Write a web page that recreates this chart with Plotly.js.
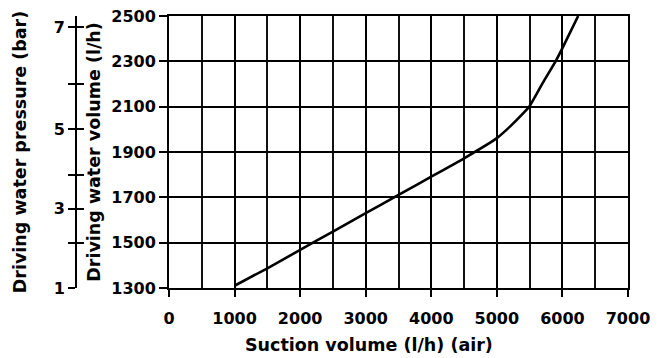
<!DOCTYPE html>
<html>
<head>
<meta charset="utf-8">
<script src="https://cdn.plot.ly/plotly-3.0.1.min.js"></script>
<style>html,body{margin:0;padding:0;background:#fff;}#chart{width:667px;height:358px;}</style>
</head>
<body>
<div id="chart"></div>
<script>
// Suction volume (l/h, air)
const suctionVolume = [1000, 1500, 2000, 2500, 3000, 3500, 4000, 4500, 5000, 5200, 5400, 5500, 5700, 5900, 6000, 6240];
// Driving water volume (l/h)
const drivingWaterVolume = [1310, 1387, 1468, 1549, 1630, 1711, 1791, 1872, 1961, 2012, 2070, 2103, 2205, 2302, 2358, 2500];
// Driving water pressure scale (bar) and the driving water volume level it sits at
const pressureValues = [1, 2, 3, 4, 5, 6, 7];
const pressureLabels = ['1', '', '3', '', '5', '', '7'];
const pressureAtVolume = [1300, 1500, 1650, 1800, 2000, 2200, 2450];

const xTitle = 'Suction volume (l/h) (air)';
const yTitle = 'Driving water volume (l/h)';
const y2Title = 'Driving water pressure (bar)';

const FONT = {family: 'DejaVu Sans', size: 16, color: '#000', weight: 700};
const TITLEFONT = {family: 'DejaVu Sans', size: 17.5, color: '#000', weight: 700};

const traces = [{
  x: suctionVolume, y: drivingWaterVolume, type: 'scatter', mode: 'lines',
  line: {color: '#000', width: 2.6, shape: 'spline', smoothing: 0.5},
  xaxis: 'x', yaxis: 'y', hoverinfo: 'skip', showlegend: false
}, {
  // empty carriers so the pressure scale is drawn
  x: [], y: [], type: 'scatter', mode: 'lines', xaxis: 'x', yaxis: 'y2',
  hoverinfo: 'skip', showlegend: false
}, {
  x: [], y: [], type: 'scatter', mode: 'lines', xaxis: 'x', yaxis: 'y3',
  hoverinfo: 'skip', showlegend: false
}];

const layout = {
  width: 667, height: 358,
  margin: {l: 0, r: 39, t: 16, b: 70},
  paper_bgcolor: '#fff', plot_bgcolor: '#fff',
  font: FONT,
  showlegend: false,
  xaxis: {
    domain: [169 / 628, 1],
    range: [0, 7000], dtick: 1000, tick0: 0,
    showgrid: true, gridcolor: '#000', gridwidth: 2,
    minor: {dtick: 500, showgrid: true, gridcolor: '#111', gridwidth: 2, ticks: ''},
    showline: true, linecolor: '#000', linewidth: 2, mirror: true,
    ticks: 'outside', ticklen: 7, tickwidth: 2, tickcolor: '#000',
    ticklabelstandoff: 8,
    zeroline: false, tickfont: FONT
  },
  yaxis: {
    range: [1300, 2500], dtick: 200, tick0: 1300,
    showgrid: true, gridcolor: '#000', gridwidth: 2,
    showline: true, linecolor: '#000', linewidth: 2, mirror: true,
    ticks: 'outside', ticklen: 8, tickwidth: 2, tickcolor: '#000',
    zeroline: false, tickfont: FONT,
    title: {text: yTitle, font: TITLEFONT, standoff: 6}
  },
  yaxis2: {
    overlaying: 'y', anchor: 'free', position: 76 / 628, side: 'left',
    range: [1300, 2500],
    tickmode: 'array', tickvals: pressureAtVolume, ticktext: pressureLabels,
    showgrid: false, zeroline: false,
    showline: true, linecolor: '#000', linewidth: 2,
    ticks: 'outside', ticklen: 7, tickwidth: 2, tickcolor: '#000',
    tickfont: FONT,
    title: {text: y2Title, font: TITLEFONT, standoff: 22}
  },
  yaxis3: {
    overlaying: 'y', anchor: 'free', position: 76 / 628, side: 'right',
    range: [1300, 2500],
    tickmode: 'array', tickvals: pressureAtVolume.slice(1), showticklabels: false,
    showgrid: false, zeroline: false, showline: false,
    ticks: 'outside', ticklen: 7, tickwidth: 2, tickcolor: '#000'
  },
  annotations: [{
    text: xTitle, xref: 'paper', yref: 'paper',
    x: (369) / 628, y: -(345 - 288) / 272, xanchor: 'center', yanchor: 'middle',
    showarrow: false, font: TITLEFONT
  }]
};

Plotly.newPlot('chart', traces, layout, {staticPlot: true, displayModeBar: false});
</script>
</body>
</html>
